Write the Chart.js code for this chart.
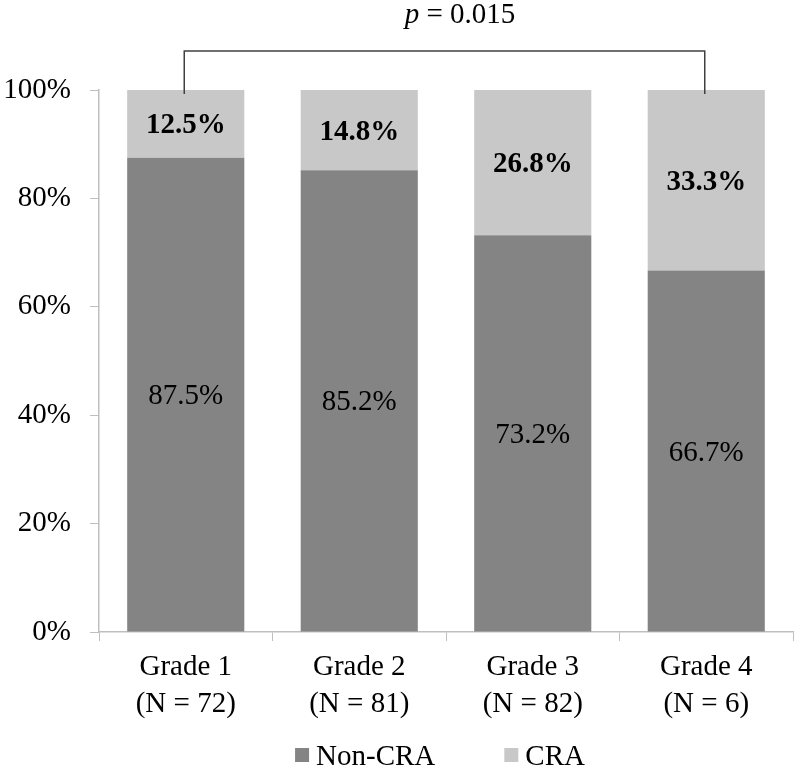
<!DOCTYPE html>
<html>
<head>
<meta charset="utf-8">
<script src="https://cdn.jsdelivr.net/npm/chart.js@4.4.0/dist/chart.umd.min.js"></script>
<style>
  html, body { margin: 0; padding: 0; background: #fff; }
  #wrap { width: 800px; height: 772px; }
</style>
</head>
<body>
<div id="wrap"><canvas id="chart" width="800" height="772"></canvas></div>
<script>
// Data ----------
var gradeLabels = [["Grade 1", "(N = 72)"], ["Grade 2", "(N = 81)"], ["Grade 3", "(N = 82)"], ["Grade 4", "(N = 6)"]];
var nonCraValues = [87.5, 85.2, 73.2, 66.7];
var craValues = [12.5, 14.8, 26.8, 33.3];
var yTicks = [0, 20, 40, 60, 80, 100];
var pValueText = "0.015";

var serif = "'Liberation Serif', 'Times New Roman', serif";

// Labels in the middle of each bar segment
var segmentLabels = {
    id: 'segmentLabels',
    afterDatasetsDraw: function(chart) {
        var ctx = chart.ctx;
        ctx.save();
        ctx.textAlign = 'center';
        ctx.textBaseline = 'middle';
        ctx.fillStyle = '#000';
        chart.data.datasets.forEach(function(ds, di) {
            var meta = chart.getDatasetMeta(di);
            ctx.font = (di === 1 ? 'bold ' : '') + '29px ' + serif;
            meta.data.forEach(function(bar, i) {
                var y = (bar.y + bar.base) / 2 + 2;
                ctx.fillText(ds.data[i].toFixed(1) + '%', bar.x, y);
            });
        });
        ctx.restore();
    }
};

// Significance bracket between Grade 1 and Grade 4
var pBracket = {
    id: 'pBracket',
    afterDraw: function(chart) {
        var ctx = chart.ctx;
        var first = chart.getDatasetMeta(1).data[0];
        var last = chart.getDatasetMeta(1).data[3];
        var top = chart.scales.y.getPixelForValue(100);
        var lineY = top - 39;
        ctx.save();
        ctx.strokeStyle = '#404040';
        ctx.lineWidth = 1.5;
        ctx.beginPath();
        ctx.moveTo(first.x - 1.5, top + 4);
        ctx.lineTo(first.x - 1.5, lineY);
        ctx.lineTo(last.x - 1.5, lineY);
        ctx.lineTo(last.x - 1.5, top + 4);
        ctx.stroke();

        ctx.fillStyle = '#000';
        ctx.textBaseline = 'middle';
        ctx.textAlign = 'left';
        ctx.font = 'italic 29px ' + serif;
        var pw = ctx.measureText('p').width;
        ctx.font = '29px ' + serif;
        var rest = ' = ' + pValueText;
        var rw = ctx.measureText(rest).width;
        var x0 = 460 - (pw + rw) / 2;
        ctx.font = 'italic 29px ' + serif;
        ctx.fillText('p', x0, 15);
        ctx.font = '29px ' + serif;
        ctx.fillText(rest, x0 + pw, 15);
        ctx.restore();
    }
};

// Legend under the axis, centred a bit left of the plot centre like the original
var bottomLegend = {
    id: 'bottomLegend',
    afterDraw: function(chart) {
        var ctx = chart.ctx;
        var area = chart.chartArea;
        var box = 14, textGap = 7, itemGap = 69;
        ctx.save();
        ctx.font = '29px ' + serif;
        ctx.textBaseline = 'alphabetic';
        ctx.textAlign = 'left';
        var items = chart.data.datasets.map(function(ds) {
            return { text: ds.label, color: ds.backgroundColor, w: ctx.measureText(ds.label).width };
        });
        var total = 0;
        items.forEach(function(it, i) {
            total += box + textGap + it.w + (i < items.length - 1 ? itemGap : 0);
        });
        var x = (area.left + area.right) / 2 - total / 2 - 6;
        var baseline = 765;
        items.forEach(function(it) {
            ctx.fillStyle = it.color;
            ctx.fillRect(x, baseline - 17, box, box);
            ctx.fillStyle = '#000';
            ctx.fillText(it.text, x + box + textGap, baseline);
            x += box + textGap + it.w + itemGap;
        });
        ctx.restore();
    }
};

var ctx = document.getElementById("chart").getContext("2d");

var myChart = new Chart(ctx, {
    type: 'bar',
    data: {
        labels: gradeLabels,
        datasets: [{
            label: 'Non-CRA',
            data: nonCraValues,
            backgroundColor: '#848484',
            borderWidth: 0
        }, {
            label: 'CRA',
            data: craValues,
            backgroundColor: '#c8c8c8',
            borderWidth: 0
        }]
    },
    options: {
        responsive: false,
        animation: false,
        devicePixelRatio: 1,
        categoryPercentage: 1,
        barPercentage: 0.675,
        layout: { padding: { top: 90, right: 7, left: 0, bottom: 0 } },
        plugins: {
            legend: { display: false },
            tooltip: { enabled: false }
        },
        scales: {
            x: {
                stacked: true,
                grid: { offset: true, drawOnChartArea: false, drawTicks: true, tickLength: 9, color: '#bfbfbf' },
                border: { color: '#bfbfbf', width: 1.5 },
                ticks: {
                    color: '#000',
                    font: { family: serif, size: 29, lineHeight: 1.28 },
                    padding: 8,
                    maxRotation: 0
                },
                afterFit: function(scale) { scale.height = 140; }
            },
            y: {
                stacked: true,
                min: 0,
                max: 100,
                afterBuildTicks: function(scale) {
                    scale.ticks = yTicks.map(function(v) { return { value: v }; });
                },
                grid: { drawOnChartArea: false, drawTicks: true, tickLength: 9, color: '#bfbfbf' },
                border: { color: '#bfbfbf', width: 1.5 },
                ticks: {
                    color: '#000',
                    font: { family: serif, size: 29 },
                    padding: 19,
                    callback: function(v) { return v + '%'; }
                },
                afterFit: function(scale) { scale.width = 99; }
            }
        }
    },
    plugins: [segmentLabels, pBracket, bottomLegend]
});
</script>
</body>
</html>
